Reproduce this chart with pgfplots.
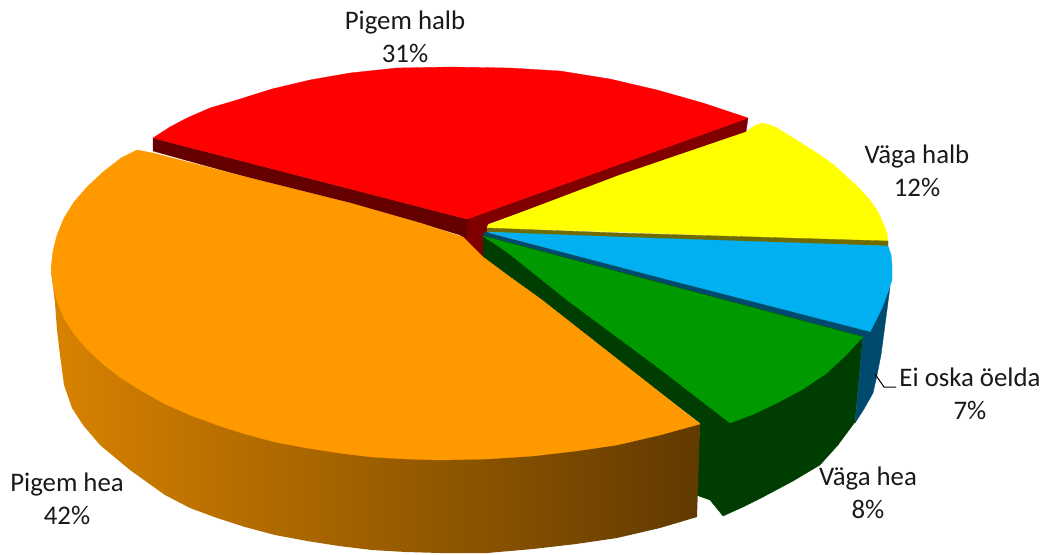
\documentclass[border=0pt]{standalone}
\usepackage{fontspec}
\setmainfont{Carlito}
\usepackage{pgfplots}
\pgfplotsset{compat=1.18}
\definecolor{cOrange}{HTML}{FF9900}
\definecolor{cRed}{HTML}{FF0000}
\definecolor{cRedA}{HTML}{650000}
\definecolor{cRedB}{HTML}{800000}
\definecolor{cYellow}{HTML}{FFFF00}
\definecolor{cYellowD}{HTML}{6F6B00}
\definecolor{cBlue}{HTML}{00B0F0}
\definecolor{cBlueD}{HTML}{004B6D}
\definecolor{cGreen}{HTML}{009900}
\definecolor{cGreenD}{HTML}{003D00}
\tikzset{lbl/.style={font=\fontsize{26.8}{33}\selectfont, align=center, text=black!90, inner sep=0pt}}
\begin{document}
\begin{tikzpicture}
\path[use as bounding box] (0,0) rectangle (1043pt,554pt);
\begin{axis}[
  at={(0,0)}, anchor=south west,
  scale only axis, width=1043pt, height=554pt,
  xmin=0, xmax=1043, ymin=0, ymax=554, y dir=reverse,
  hide axis, clip=false,
  every axis plot/.append style={line width=0.3pt},
]
% side walls
\addplot[draw=cRedB, fill=cRedB] coordinates {(467,219) (748,118) (746,132) (488,224) (490,240) (484,262) (458,242)} --cycle;
\addplot[draw=cRedA, fill=cRedA] coordinates {(153,138) (467,219) (467,237) (420,223) (350,203) (250,178) (153,151)} --cycle;
\addplot[draw=cGreenD, fill=cGreenD] coordinates {(483,235) (483,257) (700,423) (696,495) (710,500) (723,516) (743,507) (763,497) (793,481) (820,465) (838,445) (855,422) (863,336) (660,282)} --cycle;
\addplot[draw=cBlueD, fill=cBlueD] coordinates {(863,336) (855,423) (864,409) (873,393) (876,380) (878,370) (881,355) (883,340) (887,310) (890,287) (880,300) (870,325)} --cycle;
\addplot[draw=none, left color=cOrange!85!black, right color=cOrange!38!black] coordinates {(51,270) (55,303) (57,330) (60,355) (64,385) (72,408) (83,425) (100,445) (130,470) (165,495) (190,508) (217,518) (245,527) (275,535) (307,541) (339,546) (372,550) (406,552) (440,553) (487,553) (533,549) (576,544) (617,538) (660,528) (697,517) (700,424) (450,440) (110,360)} --cycle;
% top faces
\addplot[draw=cOrange, fill=cOrange] coordinates {(137,150) (153,153) (250,178) (350,203) (420,223) (463,237) (483,257) (510,277) (542,300) (700,424) (660,435) (617,445) (576,451) (533,456) (487,459) (440,460) (406,459) (372,457) (339,453) (307,448) (275,442) (245,434) (217,425) (190,415) (165,404) (142,391) (121,378) (103,364) (87,349) (74,334) (64,318) (57,301) (53,285) (51,268) (53,251) (57,235) (64,218) (74,202) (87,187) (103,172) (121,158)} --cycle;
\addplot[draw=cRed, fill=cRed] coordinates {(153,138) (170,127) (187,118) (210,108) (237,100) (272,89) (310,80) (350,73) (397,68) (450,67) (510,68) (560,71) (610,79) (657,90) (703,103) (748,118) (467,219)} --cycle;
\addplot[draw=cYellow, fill=cYellow] coordinates {(488,225) (620,175) (746,132) (754,126) (762,123) (770,125) (777,128) (798,141) (820,155) (834,165) (847,177) (859,188) (870,200) (878,212) (883,223) (887,233) (888,242) (620,232) (487,228)} --cycle;
\addplot[draw=cYellowD, fill=cYellowD] coordinates {(487,228) (620,233) (888,241) (888,246) (620,238) (487,232)} --cycle;
\addplot[draw=cBlue, fill=cBlue] coordinates {(487,232) (620,237) (888,246) (891,255) (892,265) (892,280) (888,292) (882,308) (870,332) (660,278)} --cycle;
\addplot[draw=cBlueD, fill=cBlueD] coordinates {(485,232) (660,278) (870,332) (863,336) (660,282) (483,235)} --cycle;
\addplot[draw=cGreen, fill=cGreen] coordinates {(483,236) (660,283) (863,337) (846,355) (827,373) (803,389) (777,403) (754,414) (730,423) (660,369) (567,300) (507,252)} --cycle;
% leader line
\addplot[black, line width=1pt] coordinates {(875,374) (884,387) (896,387)};
% labels
\node[lbl] at (axis cs:405,37) {Pigem halb\\31\%};
\node[lbl] at (axis cs:917,171) {Väga halb\\12\%};
\node[lbl] at (axis cs:970,394) {Ei oska öelda\\7\%};
\node[lbl] at (axis cs:868,493) {Väga hea\\8\%};
\node[lbl] at (axis cs:67,499) {Pigem hea\\42\%};
\end{axis}
\end{tikzpicture}
\end{document}
